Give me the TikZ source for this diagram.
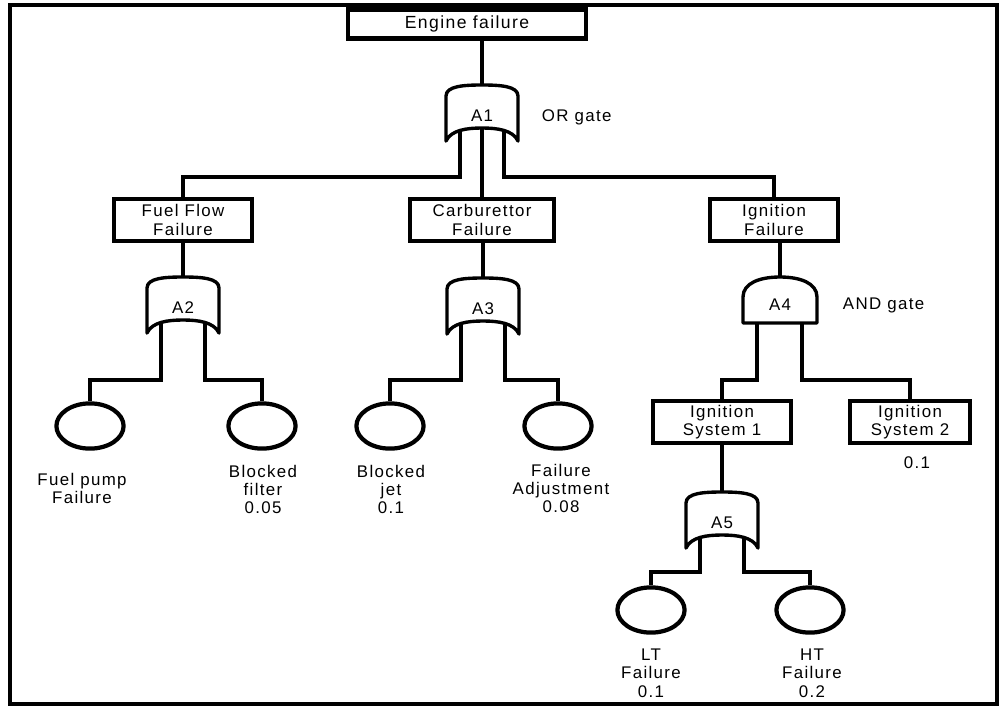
\documentclass[tikz,border=0pt]{standalone}
\usepackage{fontspec}
\setmainfont{Liberation Sans}[LetterSpace=8]
\usetikzlibrary{shapes.geometric}

\tikzset{
  % porta OU (A1, A2, A3, A5)
  portaou/.pic={
    \draw[porta] (-36,-17) .. controls (-36,-27) and (-18,-28) .. (0,-28)
      .. controls (18,-28) and (36,-27) .. (36,-17) -- (36,28)
      .. controls (31,17) and (15,15) .. (0,15)
      .. controls (-15,15) and (-31,17) .. (-36,28) -- cycle;
    \coordinate (-topo) at (0,-28);
    \coordinate (-e1) at (-22,17);
    \coordinate (-e2) at (0,15);
    \coordinate (-e3) at (22,17);
    \node (-txt) at (0,3) {#1};
  },
  % porta E (A4)
  portae/.pic={
    \draw[porta] (-37,23) -- (-37,-3) .. controls (-37,-17) and (-20,-23) .. (0,-23)
      .. controls (20,-23) and (37,-17) .. (37,-3) -- (37,23) -- cycle;
    \coordinate (-topo) at (0,-23);
    \coordinate (-e1) at (-23,23);
    \coordinate (-e3) at (22,23);
    \node (-txt) at (0,5) {#1};
  },
}

\begin{document}
\begin{tikzpicture}[x=0.025cm, y=-0.025cm,
    every node/.style={font=\fontsize{12}{13}\selectfont, align=center},
    evento/.style={draw, line width=3pt, minimum height=1.05cm, inner sep=2pt},
    basico/.style={draw, ellipse, line width=3pt, minimum width=1.68cm, minimum height=1.13cm},
    fio/.style={line width=2.6pt},
    porta/.style={line width=2.4pt, line join=round}]
  \useasboundingbox (0,0) rectangle (1001,706);
  \draw[line width=2.4pt] (10,5) rectangle (997,704);
  % Define os eventos
  \node[evento, minimum width=5.95cm, minimum height=0.72cm, font=\fontsize{12.5}{13}\selectfont] (motor) at (467,24) {Engine failure};
  \node[evento, minimum width=3.45cm] (fluxo) at (183,220) {Fuel Flow\\Failure};
  \node[evento, minimum width=3.6cm] (carb) at (482,220) {Carburettor\\Failure};
  \node[evento, minimum width=3.2cm] (ign) at (774,220) {Ignition\\Failure};
  \node[evento, minimum width=3.45cm] (sis1) at (722,422) {Ignition\\System 1};
  \node[evento, minimum width=3.0cm] (sis2) at (910,422) {Ignition\\System 2};
  % Define as portas
  \pic (A1) at (482,113) {portaou=A1};
  \pic (A2) at (183,305) {portaou=A2};
  \pic (A3) at (483,306) {portaou=A3};
  \pic (A4) at (780,300) {portae=A4};
  \pic (A5) at (722,520) {portaou=A5};
  \node[anchor=west] (ortxt) at (537,117) {OR gate};
  \node[anchor=west] (andtxt) at (838,305) {AND gate};
  % Eventos basicos
  \node[basico] (bomba) at (90,426) {};
  \node[basico] (filtro) at (262,426) {};
  \node[basico] (jato) at (390,426) {};
  \node[basico] (ajuste) at (558,426) {};
  \node[basico] (lt) at (651,610) {};
  \node[basico] (ht) at (810,610) {};
  % Textos e probabilidades
  \node[anchor=north] (bombatxt) at (82,468) {Fuel pump\\Failure};
  \node[anchor=north] (filtrotxt) at (263,460) {Blocked\\filter\\0.05};
  \node[anchor=north] (jatotxt) at (391,460) {Blocked\\jet\\0.1};
  \node[anchor=north] (ajustetxt) at (561,459) {Failure\\Adjustment\\0.08};
  \node[anchor=north] (lttxt) at (651,644) {LT\\Failure\\0.1};
  \node[anchor=north] (httxt) at (812,644) {HT\\Failure\\0.2};
  \node (sis2p) at (917,463) {0.1};
  % Barramentos
  \coordinate (b1) at (0,177);
  \coordinate (b2) at (0,380);
  \coordinate (b5) at (0,572);
  % Conecta os nos
  \draw[fio] (motor.south -| A1-topo) -- (A1-topo);
  \draw[fio] (A1-e1) |- (fluxo.north |- b1) -- (fluxo.north);
  \draw[fio] (A1-e2) -- (carb.north);
  \draw[fio] (A1-e3) |- (ign.north |- b1) -- (ign.north);
  \draw[fio] (fluxo.south) -- (A2-topo);
  \draw[fio] (carb.south -| A3-topo) -- (A3-topo);
  \draw[fio] (ign.south -| A4-topo) -- (A4-topo);
  \draw[fio] (A2-e1) |- (bomba.north |- b2) -- (bomba.north);
  \draw[fio] (A2-e3) |- (filtro.north |- b2) -- (filtro.north);
  \draw[fio] (A3-e1) |- (jato.north |- b2) -- (jato.north);
  \draw[fio] (A3-e3) |- (ajuste.north |- b2) -- (ajuste.north);
  \draw[fio] (A4-e1) |- (sis1.north |- b2) -- (sis1.north);
  \draw[fio] (A4-e3) |- (sis2.north |- b2) -- (sis2.north);
  \draw[fio] (sis1.south) -- (A5-topo);
  \draw[fio] (A5-e1) |- (lt.north |- b5) -- (lt.north);
  \draw[fio] (A5-e3) |- (ht.north |- b5) -- (ht.north);
\end{tikzpicture}
\end{document}
